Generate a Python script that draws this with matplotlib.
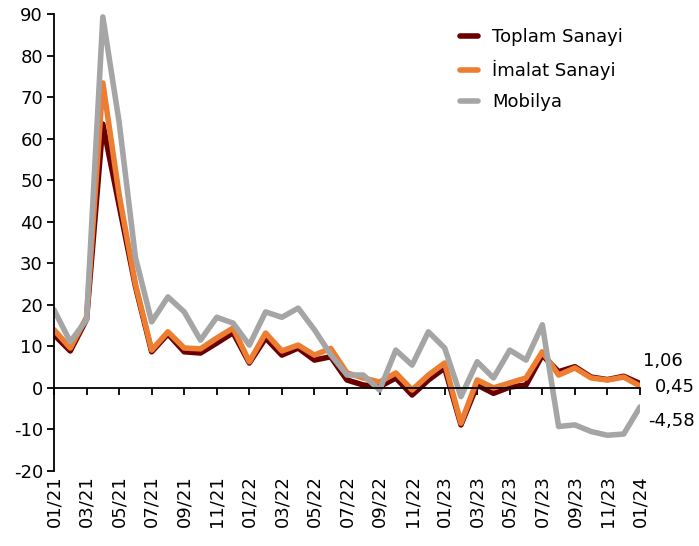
# chart: monthly growth, Toplam / İmalat Sanayi / Mobilya
import numpy as np
import matplotlib.pyplot as plt

plt.rcParams["axes.unicode_minus"] = False

months = ["01/21", "02/21", "03/21", "04/21", "05/21", "06/21", "07/21", "08/21", "09/21",
          "10/21", "11/21", "12/21", "01/22", "02/22", "03/22", "04/22", "05/22", "06/22",
          "07/22", "08/22", "09/22", "10/22", "11/22", "12/22", "01/23", "02/23", "03/23",
          "04/23", "05/23", "06/23", "07/23", "08/23", "09/23", "10/23", "11/23", "12/23",
          "01/24"]

toplam = [12.8, 8.9, 16.5, 63.5, 44.0, 24.5, 8.7, 13.0, 8.7, 8.4, 10.8, 13.3, 6.0, 12.0,
          7.9, 9.6, 6.7, 7.5, 1.9, 0.7, 0.3, 2.4, -1.7, 1.9, 4.8, -8.9, 0.7, -1.3, 0.2,
          0.7, 7.9, 3.9, 5.1, 2.6, 2.0, 2.8, 1.06]
imalat = [14.0, 9.6, 17.0, 73.4, 46.5, 25.0, 9.1, 13.5, 9.6, 9.4, 12.0, 14.4, 6.3, 13.2,
          8.9, 10.3, 7.9, 9.5, 3.6, 2.4, 1.4, 3.6, -0.5, 3.1, 6.0, -8.5, 1.9, 0.0, 1.2,
          2.4, 8.7, 3.1, 4.8, 2.4, 1.9, 2.6, 0.45]
mobilya = [18.8, 11.1, 16.4, 89.3, 64.0, 31.5, 15.9, 21.9, 18.3, 11.5, 17.0, 15.6, 10.3,
           18.3, 17.0, 19.2, 14.0, 8.0, 3.1, 3.1, -0.5, 9.1, 5.5, 13.5, 9.6, -2.1, 6.3,
           2.4, 9.1, 6.7, 15.2, -9.3, -8.9, -10.5, -11.4, -11.1, -4.58]

end_labels = ["1,06", "0,45", "-4,58"]

fig = plt.figure(figsize=(6.99, 5.46), dpi=100)
ax = fig.add_axes([54/699, 1-471/546, (640-54)/699, (471-14)/546])

x = np.arange(len(months))
style = dict(lw=4, solid_joinstyle="round", solid_capstyle="round")
ax.plot(x, toplam, color="#6B0000", label="Toplam Sanayi", **style)
ax.plot(x, imalat, color="#ED7D31", label="İmalat Sanayi", **style)
ax.plot(x, mobilya, color="#A5A5A5", label="Mobilya", **style)

ax.set_xlim(0, len(months)-1)
ax.set_ylim(-20, 90)
ax.set_yticks(np.arange(-20, 91, 10))

# x axis sits on zero, labels at the bottom
ax.spines["bottom"].set_position(("data", 0))
ax.spines["top"].set_visible(False)
ax.spines["right"].set_visible(False)
ax.spines["left"].set_linewidth(1.3)
ax.spines["bottom"].set_linewidth(1.3)
ax.set_xticks(x[::2])
ax.set_xticklabels(months[::2], rotation=90, fontsize=13)
ax.tick_params(axis="x", direction="out", length=5, width=1.3, pad=58)
ax.tick_params(axis="y", direction="out", length=5, width=1.3, labelsize=13, pad=3)

# end values
ax.annotate(end_labels[0], (x[-1], toplam[-1]), xytext=(2, 16), textcoords="offset points",
            fontsize=13, va="center", ha="left", annotation_clip=False)
ax.annotate(end_labels[1], (x[-1], imalat[-1]), xytext=(11, -1), textcoords="offset points",
            fontsize=13, va="center", ha="left", annotation_clip=False)
ax.annotate(end_labels[2], (x[-1], mobilya[-1]), xytext=(6, -10), textcoords="offset points",
            fontsize=13, va="center", ha="left", annotation_clip=False)

ax.legend(loc="upper left", bbox_to_anchor=(444/699, 1-12/546), bbox_transform=fig.transFigure,
          frameon=False, fontsize=13, handlelength=1.0, handletextpad=0.75, labelspacing=0.75)

fig.savefig("out.png", dpi=100)
